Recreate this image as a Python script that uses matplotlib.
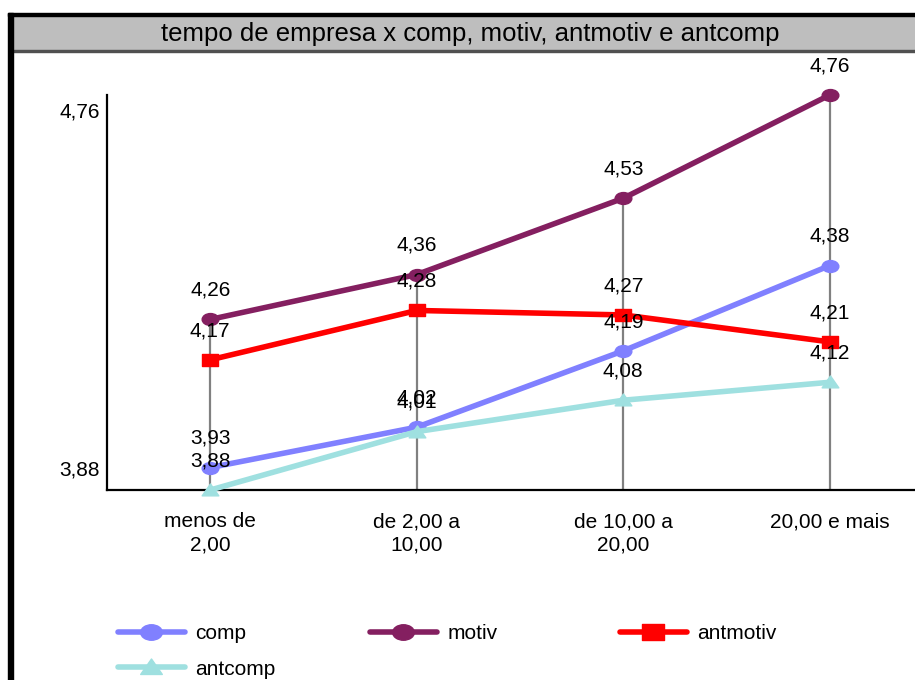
import matplotlib
matplotlib.use('Agg')
import matplotlib.pyplot as plt
from matplotlib.path import Path
from matplotlib.transforms import Affine2D
from matplotlib.patches import Rectangle

plt.rcParams['font.family'] = ['Liberation Sans', 'DejaVu Sans']

categories = ['menos de\n2,00', 'de 2,00 a\n10,00', 'de 10,00 a\n20,00', '20,00 e mais']
comp = [3.93, 4.02, 4.19, 4.38]
motiv = [4.26, 4.36, 4.53, 4.76]
antmotiv = [4.17, 4.28, 4.27, 4.21]
antcomp = [3.88, 4.01, 4.08, 4.12]
y_ticks = [3.88, 4.76]
title = 'tempo de empresa x comp, motiv, antmotiv e antcomp'

# squashed markers like the excel export
ellipse = Path.unit_circle().transformed(Affine2D().scale(1.4, 1.0))
rect = Path([(-0.7, -0.5), (0.7, -0.5), (0.7, 0.5), (-0.7, 0.5), (-0.7, -0.5)],
            [Path.MOVETO, Path.LINETO, Path.LINETO, Path.LINETO, Path.CLOSEPOLY])
tri = Path([(-0.7, -0.45), (0.7, -0.45), (0.0, 0.55), (-0.7, -0.45)],
           [Path.MOVETO, Path.LINETO, Path.LINETO, Path.CLOSEPOLY])

series = [
    ('comp', comp, '#8080FF', ellipse),
    ('motiv', motiv, '#841F60', ellipse),
    ('antmotiv', antmotiv, '#FF0000', rect),
    ('antcomp', antcomp, '#9FE0E0', tri),
]

fig = plt.figure(figsize=(9.15, 6.8), dpi=100)
W, H = 915, 680
ax = fig.add_axes([107 / W, 1 - 490 / H, (933 - 107) / W, (490 - 95) / H])
x = list(range(len(categories)))

# drop lines
tops = [max(v) for v in zip(comp, motiv, antmotiv, antcomp)]
ax.vlines(x, y_ticks[0], tops, color='#808080', lw=1.6, zorder=1)

handles = []
for name, vals, col, mk in series:
    h, = ax.plot(x, vals, color=col, lw=4, marker=mk, markersize=12,
                 markeredgecolor=col, label=name, zorder=3, clip_on=False,
                 solid_capstyle='round')
    handles.append(h)

for name, vals, col, mk in series:
    for xi, v in zip(x, vals):
        ax.annotate(('%.2f' % v).replace('.', ','), (xi, v), xytext=(0, 21),
                    textcoords='offset points', ha='center', va='center',
                    fontsize=15, zorder=5)

ax.set_xlim(-0.5, 3.5)
ax.set_ylim(y_ticks[0], y_ticks[1])
ax.set_xticks(x)
ax.set_xticklabels(categories, fontsize=15, linespacing=1.3)
ax.tick_params(axis='x', length=0, pad=16)
ax.set_yticks([])
ax.annotate('4,76', (0, y_ticks[1]), xycoords=('axes fraction', 'data'),
            xytext=(-5, -12), textcoords='offset points', ha='right', va='center', fontsize=15)
ax.annotate('3,88', (0, y_ticks[0]), xycoords=('axes fraction', 'data'),
            xytext=(-5, 14.5), textcoords='offset points', ha='right', va='center', fontsize=15)
for s in ['top', 'right']:
    ax.spines[s].set_visible(False)
ax.spines['left'].set_linewidth(1.6)
ax.spines['bottom'].set_linewidth(1.6)

# frame and title bar
fig.add_artist(Rectangle((13 / W, 1 - 50 / H), (W - 13) / W, 34 / H,
                         transform=fig.transFigure, color='#BEBEBE', zorder=0))
fig.add_artist(Rectangle((13 / W, 1 - 52 / H), (W - 13) / W, 2.5 / H,
                         transform=fig.transFigure, color='#505050', zorder=1))
fig.add_artist(Rectangle((8 / W, 1 - 16 / H), (W - 8) / W, 3 / H,
                         transform=fig.transFigure, color='black', zorder=1))
fig.add_artist(Rectangle((8 / W, 0), 5 / W, (H - 13) / H,
                         transform=fig.transFigure, color='black', zorder=1))
fig.text(470 / W, 1 - 34 / H, title, ha='center', va='center', fontsize=18.5)

# legend in three columns
cols = [([handles[0], handles[3]], 118), ([handles[1]], 370), ([handles[2]], 620)]
for hs, xpos in cols:
    fig.legend(handles=hs, loc='upper left', bbox_to_anchor=(xpos / W, 1 - 624 / H),
               frameon=False, borderpad=0, borderaxespad=0, fontsize=15,
               handlelength=3.2, handletextpad=0.5, labelspacing=0.8,
               markerscale=1.3)

fig.savefig('out.png', dpi=100)
